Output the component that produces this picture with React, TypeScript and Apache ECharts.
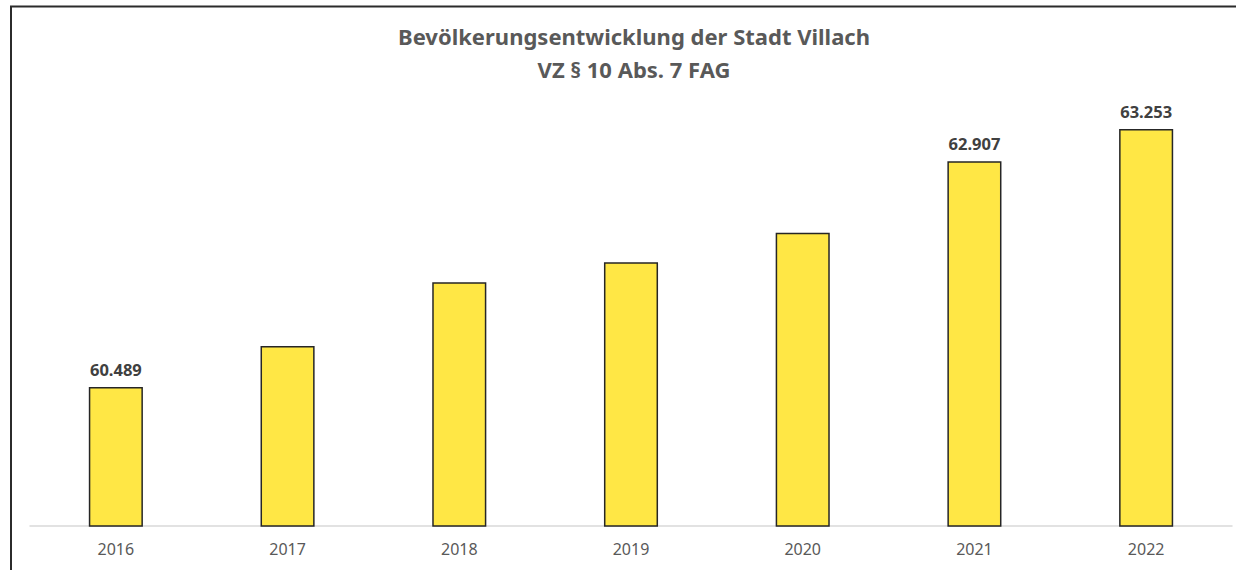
import React, { useEffect, useRef } from "react";
import * as echarts from "echarts";

const years = ["2016", "2017", "2018", "2019", "2020", "2021", "2022"];
const population = [60489, 60928, 61611, 61825, 62142, 62907, 63253];
const labelledYears = ["2016", "2021", "2022"];
const titleLines = ["Bevölkerungsentwicklung der Stadt Villach", "VZ § 10 Abs. 7 FAG"];

const fmt = (v: number) => String(v).replace(/\B(?=(\d{3})+(?!\d))/g, ".");

export default function App() {
  const ref = useRef<HTMLDivElement>(null);
  useEffect(() => {
    const chart = echarts.init(ref.current!, null, { renderer: "svg" });
    const font = "'Noto Sans', 'Open Sans', sans-serif";
    chart.setOption({
      animation: false,
      backgroundColor: "#ffffff",
      title: {
        text: titleLines.join("\n"),
        left: 629,
        textAlign: "center",
        top: 14,
        textStyle: {
          fontFamily: font,
          fontSize: 22,
          fontWeight: "bold",
          color: "#595959",
          lineHeight: 33,
        },
      },
      grid: { left: 30, right: 4, top: 106, bottom: 44, containLabel: false },
      xAxis: {
        type: "category",
        data: years,
        axisLine: { lineStyle: { color: "#d9d9d9", width: 1.5 } },
        axisTick: { show: false },
        axisLabel: { fontFamily: font, fontSize: 16, color: "#595959", margin: 15 },
      },
      yAxis: {
        type: "value",
        min: 59000,
        max: 63500,
        show: false,
        splitLine: { show: false },
      },
      series: [
        {
          type: "bar",
          barWidth: "31.5%",
          data: population.map((v, i) => ({
            value: v,
            label: { show: labelledYears.includes(years[i]) },
          })),
          itemStyle: { color: "#FFE745", borderColor: "#262626", borderWidth: 1.5 },
          label: {
            position: "top",
            distance: 9,
            formatter: (p: any) => fmt(p.value),
            fontFamily: font,
            fontSize: 16.5,
            fontWeight: "bold",
            color: "#404040",
          },
        },
      ],
      graphic: [
        {
          type: "polyline",
          shape: { points: [[11, 570], [11, 6.5], [1236, 6.5]] },
          style: { stroke: "#2b2b2b", lineWidth: 2, fill: "none" },
          silent: true,
        },
      ],
    });
    return () => chart.dispose();
  }, []);
  return (
    <div
      ref={ref}
      style={{ position: "fixed", left: 0, top: 0, width: 1236, height: 570 }}
    />
  );
}
